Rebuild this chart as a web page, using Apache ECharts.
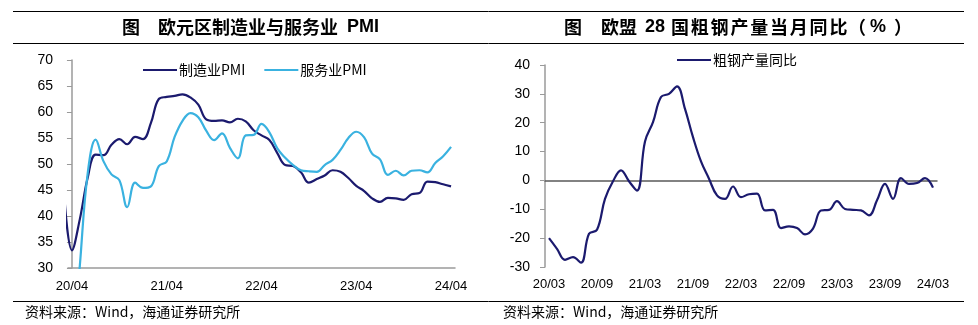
<!DOCTYPE html>
<html>
<head>
<meta charset="utf-8">
<script src="https://cdn.jsdelivr.net/npm/echarts@6/dist/echarts.min.js"></script>
<style>
html,body{margin:0;padding:0;background:#fff;}
#c{width:978px;height:325px;}
</style>
</head>
<body>
<div id="c"></div>
<script>
// ---- Left chart: Eurozone PMI (monthly, 20/03 .. 24/04) ----
const pmiMonths = ['20/03','20/04','20/05','20/06','20/07','20/08','20/09','20/10','20/11','20/12',
  '21/01','21/02','21/03','21/04','21/05','21/06','21/07','21/08','21/09','21/10','21/11','21/12',
  '22/01','22/02','22/03','22/04','22/05','22/06','22/07','22/08','22/09','22/10','22/11','22/12',
  '23/01','23/02','23/03','23/04','23/05','23/06','23/07','23/08','23/09','23/10','23/11','23/12',
  '24/01','24/02','24/03','24/04'];
const mfgPMI = [44.5,33.4,39.4,47.4,51.8,51.7,53.7,54.8,53.8,55.2,
  54.8,57.9,62.5,62.9,63.1,63.4,62.8,61.4,58.6,58.3,58.4,58.0,
  58.7,58.2,56.5,55.5,54.6,52.1,49.8,49.6,48.4,46.4,47.1,47.8,
  48.8,48.5,47.3,45.8,44.8,43.4,42.7,43.5,43.4,43.1,44.2,44.4,
  46.6,46.5,46.1,45.7];
const svcPMI = [26.4,12.0,30.5,48.3,54.7,50.5,48.0,46.9,41.7,46.4,
  45.4,45.7,49.6,50.5,55.2,58.3,59.8,59.0,56.4,54.6,55.9,53.1,
  51.1,55.5,55.6,57.7,56.1,53.0,51.2,49.8,48.8,48.6,48.5,49.8,
  50.8,52.7,55.0,56.2,55.1,52.0,50.9,47.9,48.7,47.8,48.7,48.8,
  48.4,50.2,51.5,53.3];
const pmiAxisCats = pmiMonths.slice(1); // axis shown from 20/04

// ---- Right chart: EU28 crude steel output YoY (%) 20/03 .. 24/03 ----
const steelMonths = ['20/03','20/04','20/05','20/06','20/07','20/08','20/09','20/10','20/11','20/12',
  '21/01','21/02','21/03','21/04','21/05','21/06','21/07','21/08','21/09','21/10','21/11','21/12',
  '22/01','22/02','22/03','22/04','22/05','22/06','22/07','22/08','22/09','22/10','22/11','22/12',
  '23/01','23/02','23/03','23/04','23/05','23/06','23/07','23/08','23/09','23/10','23/11','23/12',
  '24/01','24/02','24/03'];
const steelYoY = [-20.0,-23.7,-27.5,-26.6,-28.5,-18.5,-17.1,-6.4,-0.3,3.5,
  -0.3,-3.5,13.5,20.2,28.9,30.0,32.6,24.8,15.0,6.6,0.6,-5.2,
  -6.4,-2.1,-5.8,-4.8,-4.6,-10.4,-10.2,-16.5,-15.9,-16.5,-18.7,-16.7,
  -10.4,-10.2,-7.2,-9.9,-10.2,-10.4,-12.1,-6.9,-1.2,-6.4,0.8,-1.2,
  -0.9,0.8,-2.5];

const navy = '#1b1a6e';
const sky = '#3ab2e0';
const fontLatin = '"Liberation Sans", "Noto Sans CJK SC", sans-serif';
const fontCJK = '"Noto Sans CJK SC", "Liberation Sans", sans-serif';
const titleFont = 'bold 18px ' + fontCJK;

const chart = echarts.init(document.getElementById('c'), null, {renderer:'canvas'});

// title pieces
const titleGraphics = [
  {type: 'text', left: 122, top: 18, style: {text: '图', font: titleFont, fill: '#000'}},
  {type: 'text', left: 158, top: 18, style: {text: '欧元区制造业与服务业', font: titleFont, fill: '#000'}},
  {type: 'text', left: 347, top: 18, style: {text: 'PMI', font: 'bold 18px "Liberation Sans", sans-serif', fill: '#000'}},
  {type: 'text', left: 564, top: 18, style: {text: '图', font: titleFont, fill: '#000'}},
  {type: 'text', left: 601, top: 18, style: {text: '欧盟', font: titleFont, fill: '#000'}},
  {type: 'text', left: 645, top: 18, style: {text: '28', font: 'bold 18px "Liberation Sans", sans-serif', fill: '#000'}}
];
const rightTitleChars = '国粗钢产量当月同比（%）'.split('');
const charX = [671, 690.8, 710.6, 730.4, 750.2, 770, 789.8, 809.6, 829.4, 848, 870, 894];
rightTitleChars.forEach((ch, i) => {
  titleGraphics.push({type: 'text', left: charX[i], top: 18,
    style: {text: ch, font: ch === '%' ? 'bold 18px "Liberation Sans", sans-serif' : titleFont, fill: '#000'}});
});

const option = {
  animation: false,
  backgroundColor: '#fff',
  textStyle: {fontFamily: fontLatin, color: '#000'},
  grid: [
    {left: 68, right: 523, top: 60, bottom: 57},
    {left: 545, right: 41, top: 65, bottom: 58}
  ],
  legend: [
    {
      data: ['制造业PMI', '服务业PMI'], left: 138, top: 58,
      icon: 'rect', itemWidth: 34, itemHeight: 2, itemGap: 19,
      textStyle: {fontSize: 14, fontFamily: fontCJK, color: '#000', padding: [0, 0, 0, -3]}
    },
    {
      data: ['粗钢产量同比'], left: 672, top: 48,
      icon: 'rect', itemWidth: 34, itemHeight: 2,
      textStyle: {fontSize: 14, fontFamily: fontCJK, color: '#000', padding: [0, 0, 0, -3]}
    }
  ],
  xAxis: [
    {
      type: 'category', gridIndex: 0, data: pmiAxisCats, boundaryGap: true,
      axisLine: {lineStyle: {color: '#9a9a9a', width: 1.5}},
      axisTick: {interval: 11, length: 5, lineStyle: {color: '#9a9a9a', width: 1.5}},
      axisLabel: {interval: 11, margin: 12, fontSize: 13, color: '#000'}
    },
    {
      type: 'value', gridIndex: 0, min: -0.5, max: 48.5, show: false
    },
    {
      type: 'category', gridIndex: 1, data: steelMonths, boundaryGap: true,
      axisLine: {onZero: true, lineStyle: {color: '#5a5a5a', width: 1.5}},
      axisTick: {interval: 5, length: 5, lineStyle: {color: '#aaaaaa', width: 2}},
      axisLabel: {show: false}
    },
    {
      type: 'category', gridIndex: 1, data: steelMonths, boundaryGap: true, position: 'bottom',
      axisLine: {show: false, onZero: false},
      axisTick: {show: false},
      axisLabel: {interval: 5, margin: 11, fontSize: 13, color: '#000'}
    }
  ],
  yAxis: [
    {
      type: 'value', gridIndex: 0, min: 30, max: 70, interval: 5,
      splitLine: {show: false},
      axisLine: {show: true, lineStyle: {color: '#9a9a9a', width: 1.5}},
      axisTick: {show: true, length: 5, lineStyle: {color: '#9a9a9a'}},
      axisLabel: {margin: 15, fontSize: 14, color: '#000'}
    },
    {
      type: 'value', gridIndex: 1, min: -30, max: 40, interval: 10,
      splitLine: {show: false},
      axisLine: {show: true, onZero: false, lineStyle: {color: '#9a9a9a', width: 1.5}},
      axisTick: {show: true, length: 5, lineStyle: {color: '#9a9a9a'}},
      axisLabel: {margin: 15, fontSize: 14, color: '#000'}
    }
  ],
  series: [
    {
      name: '制造业PMI', type: 'line', xAxisIndex: 1, yAxisIndex: 0,
      data: mfgPMI.map((v, i) => [i - 1, v]),
      smooth: 0.4, showSymbol: false, symbol: 'none', clip: true,
      lineStyle: {color: navy, width: 2.2}, itemStyle: {color: navy}
    },
    {
      name: '服务业PMI', type: 'line', xAxisIndex: 1, yAxisIndex: 0,
      data: svcPMI.map((v, i) => [i - 1, v]),
      smooth: 0.4, showSymbol: false, symbol: 'none', clip: true,
      lineStyle: {color: sky, width: 2.2}, itemStyle: {color: sky}
    },
    {
      name: '粗钢产量同比', type: 'line', xAxisIndex: 2, yAxisIndex: 1,
      data: steelYoY,
      smooth: 0.4, showSymbol: false, symbol: 'none',
      lineStyle: {color: navy, width: 2.2}, itemStyle: {color: navy}
    }
  ],
  graphic: [
    {type: 'line', shape: {x1: 13, y1: 11.5, x2: 964, y2: 11.5}, style: {stroke: '#000', lineWidth: 1}},
    {type: 'line', shape: {x1: 13, y1: 43.5, x2: 964, y2: 43.5}, style: {stroke: '#000', lineWidth: 1}},
    {type: 'line', shape: {x1: 13, y1: 301.5, x2: 964, y2: 301.5}, style: {stroke: '#000', lineWidth: 1}},
    ...titleGraphics,
    {type: 'text', left: 25, top: 305, style: {text: '资料来源：Wind，海通证券研究所', font: '14px ' + fontCJK, fill: '#000'}},
    {type: 'text', left: 503, top: 305, style: {text: '资料来源：Wind，海通证券研究所', font: '14px ' + fontCJK, fill: '#000'}}
  ]
};
chart.setOption(option);
</script>
</body>
</html>
